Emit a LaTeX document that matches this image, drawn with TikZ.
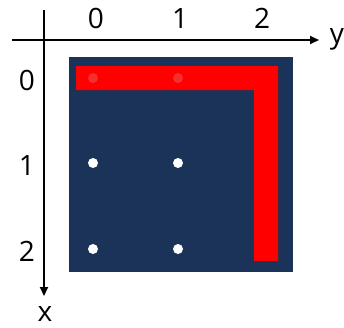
\documentclass[tikz,border=0pt]{standalone}
\usepackage{fontspec}
\setmainfont{Open Sans}
\usetikzlibrary{arrows.meta}
\definecolor{boardblue}{HTML}{1B3358}
\definecolor{pathred}{HTML}{FF0000}
\definecolor{dotred}{HTML}{F23030}
\newcommand{\lblfont}{\fontsize{28}{32}\selectfont}
\tikzset{
  axis/.style={line width=1.8pt,-{Triangle[length=9pt,width=8pt]}},
  lbl/.style={font=\lblfont,inner sep=0pt},
  dotw/.style={circle,fill=white,draw=none,minimum size=10pt,inner sep=0pt},
  dotr/.style={circle,fill=dotred,draw=none,minimum size=10pt,inner sep=0pt},
}
\begin{document}
\begin{tikzpicture}[x=1pt,y=-1pt]
\useasboundingbox (0,0) rectangle (344,327);
\fill[boardblue] (69,57) rectangle (293,272);
\fill[pathred] (76,66) -- (278,66) -- (278,261) -- (254,261) -- (254,90) -- (76,90) -- cycle;
\node[dotr] (d00) at (93,78) {};
\node[dotr] (d01) at (178,78) {};
\node[dotw] (d10) at (93,163) {};
\node[dotw] (d11) at (178,163) {};
\node[dotw] (d20) at (93,249) {};
\node[dotw] (d21) at (178,249) {};
\coordinate (hs) at (12,40);
\coordinate (he) at (319,40);
\coordinate (vs) at (44,10);
\coordinate (ve) at (44,296);
\draw[axis] (hs) -- (he);
\draw[axis] (vs) -- (ve);
\node[lbl] (ly) at (337,39) {y};
\node[lbl] (lx) at (45,313.5) {x};
\node[lbl] (c0) at (96,18.5) {0};
\node[lbl] (c1) at (180,18.5) {1};
\node[lbl] (c2) at (262,18.5) {2};
\node[lbl] (r0) at (27,80) {0};
\node[lbl] (r1) at (27,165) {1};
\node[lbl] (r2) at (27,251) {2};
\end{tikzpicture}
\end{document}
